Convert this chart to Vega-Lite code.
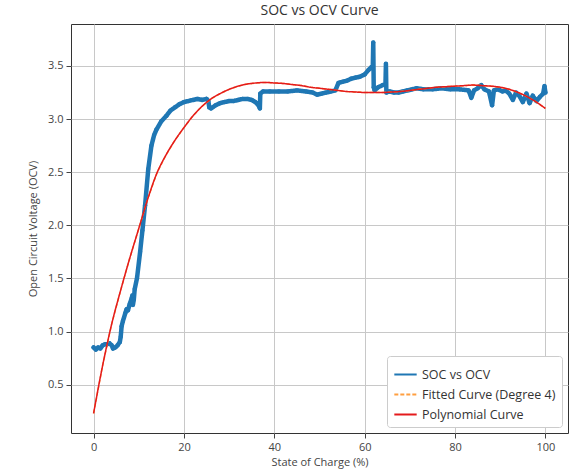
{
  "$schema": "https://vega.github.io/schema/vega-lite/v6.json",
  "autosize": "none",
  "width": 497,
  "height": 409,
  "padding": {"left": 71, "top": 24, "right": 9, "bottom": 41},
  "background": "white",
  "config": {
    "font": "Open Sans",
    "view": {"stroke": "#333333", "strokeWidth": 1},
    "axis": {
      "gridColor": "#c8c8c8", "gridWidth": 1, "domain": false,
      "tickColor": "#444444", "tickSize": 5, "labelColor": "#444444",
      "labelFontSize": 11, "titleFontSize": 11, "titleFontWeight": "normal",
      "titleColor": "#444444", "labelFont": "Open Sans", "titleFont": "Open Sans"
    }
  },
  "title": {"text": "SOC vs OCV Curve", "fontSize": 14, "fontWeight": "normal", "color": "#333333", "font": "Open Sans", "offset": 6, "anchor": "middle"},
  "datasets": {
    "soc": [
      {"soc": 0, "ocv": 0.85}, {"soc": 0.5, "ocv": 0.83}, {"soc": 1, "ocv": 0.85}, {"soc": 1.5, "ocv": 0.84},
      {"soc": 2, "ocv": 0.87}, {"soc": 2.5, "ocv": 0.88}, {"soc": 3, "ocv": 0.88}, {"soc": 3.5, "ocv": 0.89},
      {"soc": 4, "ocv": 0.87}, {"soc": 4.3, "ocv": 0.84}, {"soc": 4.8, "ocv": 0.85}, {"soc": 5.3, "ocv": 0.87},
      {"soc": 5.8, "ocv": 0.9}, {"soc": 6.0, "ocv": 0.95}, {"soc": 6.2, "ocv": 1.05}, {"soc": 6.5, "ocv": 1.1},
      {"soc": 7.0, "ocv": 1.17}, {"soc": 7.3, "ocv": 1.21}, {"soc": 7.6, "ocv": 1.2}, {"soc": 8.0, "ocv": 1.26},
      {"soc": 8.4, "ocv": 1.31}, {"soc": 8.6, "ocv": 1.34}, {"soc": 8.7, "ocv": 1.25}, {"soc": 8.9, "ocv": 1.3},
      {"soc": 9.1, "ocv": 1.4}, {"soc": 9.6, "ocv": 1.5}, {"soc": 10.3, "ocv": 1.75}, {"soc": 10.8, "ocv": 1.95},
      {"soc": 11.4, "ocv": 2.19}, {"soc": 12.1, "ocv": 2.53}, {"soc": 12.8, "ocv": 2.75}, {"soc": 13.4, "ocv": 2.85},
      {"soc": 13.9, "ocv": 2.9}, {"soc": 15, "ocv": 2.98}, {"soc": 16.1, "ocv": 3.03}, {"soc": 17, "ocv": 3.08},
      {"soc": 18, "ocv": 3.11}, {"soc": 19, "ocv": 3.14}, {"soc": 20, "ocv": 3.16}, {"soc": 21, "ocv": 3.17},
      {"soc": 22, "ocv": 3.18}, {"soc": 23, "ocv": 3.19}, {"soc": 24, "ocv": 3.18}, {"soc": 25, "ocv": 3.19},
      {"soc": 25.4, "ocv": 3.17}, {"soc": 25.6, "ocv": 3.11}, {"soc": 26, "ocv": 3.1}, {"soc": 27, "ocv": 3.13},
      {"soc": 28, "ocv": 3.15}, {"soc": 29, "ocv": 3.16}, {"soc": 30, "ocv": 3.17}, {"soc": 31, "ocv": 3.17},
      {"soc": 32, "ocv": 3.18}, {"soc": 33, "ocv": 3.19}, {"soc": 34, "ocv": 3.19}, {"soc": 35, "ocv": 3.18},
      {"soc": 35.8, "ocv": 3.16}, {"soc": 36.5, "ocv": 3.13}, {"soc": 36.8, "ocv": 3.1}, {"soc": 36.9, "ocv": 3.24},
      {"soc": 37.5, "ocv": 3.26}, {"soc": 39, "ocv": 3.26}, {"soc": 41, "ocv": 3.26}, {"soc": 43, "ocv": 3.26},
      {"soc": 45, "ocv": 3.27}, {"soc": 47, "ocv": 3.26}, {"soc": 48.5, "ocv": 3.25}, {"soc": 49.5, "ocv": 3.23},
      {"soc": 50.5, "ocv": 3.24}, {"soc": 51.5, "ocv": 3.25}, {"soc": 52.5, "ocv": 3.26}, {"soc": 53.5, "ocv": 3.27},
      {"soc": 54.2, "ocv": 3.34}, {"soc": 55, "ocv": 3.35}, {"soc": 56, "ocv": 3.36}, {"soc": 57, "ocv": 3.38},
      {"soc": 58, "ocv": 3.39}, {"soc": 59, "ocv": 3.4}, {"soc": 60, "ocv": 3.42}, {"soc": 60.8, "ocv": 3.46},
      {"soc": 61.5, "ocv": 3.49}, {"soc": 61.8, "ocv": 3.5}, {"soc": 61.9, "ocv": 3.72}, {"soc": 62.0, "ocv": 3.3},
      {"soc": 62.2, "ocv": 3.27}, {"soc": 63, "ocv": 3.3}, {"soc": 64, "ocv": 3.32}, {"soc": 64.6, "ocv": 3.33},
      {"soc": 64.7, "ocv": 3.52}, {"soc": 64.8, "ocv": 3.25}, {"soc": 65.5, "ocv": 3.26}, {"soc": 66.5, "ocv": 3.25},
      {"soc": 67.5, "ocv": 3.25}, {"soc": 68.5, "ocv": 3.26}, {"soc": 69.5, "ocv": 3.27}, {"soc": 70.5, "ocv": 3.28},
      {"soc": 71.5, "ocv": 3.29}, {"soc": 73, "ocv": 3.28}, {"soc": 75, "ocv": 3.28}, {"soc": 77, "ocv": 3.29},
      {"soc": 79, "ocv": 3.28}, {"soc": 81, "ocv": 3.28}, {"soc": 83, "ocv": 3.27}, {"soc": 83.6, "ocv": 3.2},
      {"soc": 84.2, "ocv": 3.27}, {"soc": 85, "ocv": 3.29}, {"soc": 85.8, "ocv": 3.32}, {"soc": 86.5, "ocv": 3.28},
      {"soc": 87.5, "ocv": 3.26}, {"soc": 88.2, "ocv": 3.13}, {"soc": 88.6, "ocv": 3.27}, {"soc": 89.5, "ocv": 3.28},
      {"soc": 90.5, "ocv": 3.26}, {"soc": 91.2, "ocv": 3.27}, {"soc": 92, "ocv": 3.24}, {"soc": 92.8, "ocv": 3.18},
      {"soc": 93.5, "ocv": 3.25}, {"soc": 94.2, "ocv": 3.22}, {"soc": 95, "ocv": 3.16}, {"soc": 95.8, "ocv": 3.24},
      {"soc": 96.5, "ocv": 3.15}, {"soc": 97.2, "ocv": 3.22}, {"soc": 98, "ocv": 3.17}, {"soc": 98.8, "ocv": 3.21},
      {"soc": 99.5, "ocv": 3.24}, {"soc": 99.8, "ocv": 3.31}, {"soc": 100, "ocv": 3.25}
    ],
    "poly": [
      {"soc": 0, "ocv": 0.23}, {"soc": 2, "ocv": 0.68}, {"soc": 4, "ocv": 1.07}, {"soc": 6, "ocv": 1.39},
      {"soc": 8, "ocv": 1.69}, {"soc": 10, "ocv": 1.97}, {"soc": 12, "ocv": 2.25}, {"soc": 14, "ocv": 2.49},
      {"soc": 16, "ocv": 2.66}, {"soc": 18, "ocv": 2.8}, {"soc": 20, "ocv": 2.92}, {"soc": 22, "ocv": 3.03},
      {"soc": 24, "ocv": 3.12}, {"soc": 26, "ocv": 3.19}, {"soc": 28, "ocv": 3.24}, {"soc": 30, "ocv": 3.28},
      {"soc": 32, "ocv": 3.31}, {"soc": 34, "ocv": 3.33}, {"soc": 36, "ocv": 3.34}, {"soc": 38, "ocv": 3.345},
      {"soc": 40, "ocv": 3.34}, {"soc": 42, "ocv": 3.335}, {"soc": 44, "ocv": 3.325}, {"soc": 46, "ocv": 3.315},
      {"soc": 48, "ocv": 3.3}, {"soc": 50, "ocv": 3.29}, {"soc": 52, "ocv": 3.28}, {"soc": 54, "ocv": 3.27},
      {"soc": 56, "ocv": 3.26}, {"soc": 58, "ocv": 3.255}, {"soc": 60, "ocv": 3.25}, {"soc": 62, "ocv": 3.25},
      {"soc": 64, "ocv": 3.25}, {"soc": 66, "ocv": 3.255}, {"soc": 68, "ocv": 3.26}, {"soc": 70, "ocv": 3.27},
      {"soc": 72, "ocv": 3.28}, {"soc": 74, "ocv": 3.29}, {"soc": 76, "ocv": 3.3}, {"soc": 78, "ocv": 3.305},
      {"soc": 80, "ocv": 3.31}, {"soc": 82, "ocv": 3.315}, {"soc": 84, "ocv": 3.32}, {"soc": 86, "ocv": 3.315},
      {"soc": 88, "ocv": 3.31}, {"soc": 90, "ocv": 3.3}, {"soc": 92, "ocv": 3.28}, {"soc": 94, "ocv": 3.25},
      {"soc": 96, "ocv": 3.21}, {"soc": 98, "ocv": 3.16}, {"soc": 100, "ocv": 3.1}
    ]
  },
  "encoding": {
    "x": {"field": "soc", "type": "quantitative", "title": "State of Charge (%)",
      "scale": {"domain": [-5, 105], "nice": false, "zero": false},
      "axis": {"values": [0, 20, 40, 60, 80, 100], "labelPadding": 3, "titlePadding": 4}},
    "y": {"field": "ocv", "type": "quantitative", "title": "Open Circuit Voltage (OCV)",
      "scale": {"domain": [0.045, 3.895], "nice": false, "zero": false},
      "axis": {"values": [0.5, 1.0, 1.5, 2.0, 2.5, 3.0, 3.5], "format": ".1f", "labelPadding": 3, "titlePadding": 9}}
  },
  "layer": [
    {
      "data": {"name": "soc"},
      "transform": [{"calculate": "'SOC vs OCV'", "as": "series"}],
      "mark": {"type": "line", "strokeWidth": 4.5, "strokeCap": "round", "strokeJoin": "round"},
      "encoding": {
        "color": {"field": "series", "type": "nominal",
          "scale": {"domain": ["SOC vs OCV", "Fitted Curve (Degree 4)", "Polynomial Curve"], "range": ["#1f77b4", "#ff9f40", "#e41a1c"]},
          "legend": {"title": null, "orient": "bottom-right", "offset": 6, "symbolType": "stroke", "symbolSize": 500, "symbolStrokeWidth": 2,
            "labelFontSize": 12.5, "labelColor": "#333333", "labelFont": "Open Sans", "fillColor": "white", "strokeColor": "#cccccc",
            "padding": 6, "cornerRadius": 3, "rowPadding": 1}},
        "strokeDash": {"field": "series", "type": "nominal",
          "scale": {"domain": ["SOC vs OCV", "Fitted Curve (Degree 4)", "Polynomial Curve"], "range": [[1, 0], [4, 2], [1, 0]]},
          "legend": {"title": null, "orient": "bottom-right", "offset": 6, "symbolType": "stroke", "symbolSize": 500, "symbolStrokeWidth": 2,
            "labelFontSize": 12.5, "labelColor": "#333333", "labelFont": "Open Sans", "fillColor": "white", "strokeColor": "#cccccc",
            "padding": 6, "cornerRadius": 3, "rowPadding": 1}}
      }
    },
    {
      "data": {"name": "soc"},
      "mark": {"type": "point", "filled": true, "size": 18, "color": "#1f77b4", "opacity": 1},
      "encoding": {}
    },
    {
      "data": {"name": "poly"},
      "transform": [{"calculate": "'Fitted Curve (Degree 4)'", "as": "series"}],
      "mark": {"type": "line", "strokeWidth": 1.5},
      "encoding": {
        "color": {"field": "series", "type": "nominal"},
        "strokeDash": {"field": "series", "type": "nominal"}
      }
    },
    {
      "data": {"name": "poly"},
      "transform": [{"calculate": "'Polynomial Curve'", "as": "series"}],
      "mark": {"type": "line", "strokeWidth": 1.5, "interpolate": "monotone"},
      "encoding": {
        "color": {"field": "series", "type": "nominal"},
        "strokeDash": {"field": "series", "type": "nominal"}
      }
    }
  ]
}
